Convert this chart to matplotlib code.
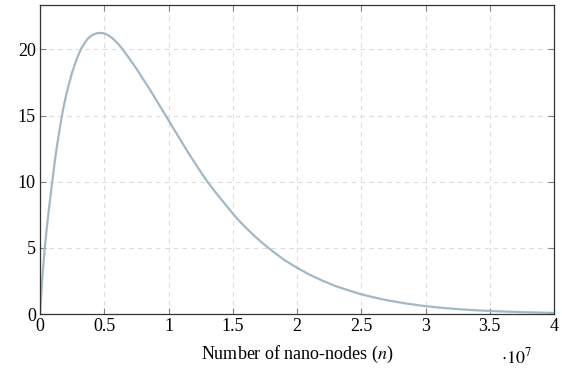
import matplotlib
matplotlib.use("Agg")
import matplotlib.pyplot as plt
from matplotlib.ticker import FuncFormatter

# number of nano-nodes, in units of 1e7
N_NODES = [0, 0.01, 0.02, 0.03, 0.04, 0.055, 0.07, 0.085, 0.10, 0.12, 0.14,
           0.16, 0.18, 0.20, 0.22, 0.245, 0.27, 0.295, 0.32, 0.345, 0.37,
           0.395, 0.42, 0.445, 0.47, 0.495, 0.52, 0.55, 0.58, 0.61, 0.64,
           0.67, 0.70, 0.75, 0.80, 0.85, 0.90, 0.95, 1.00, 1.05, 1.10, 1.15,
           1.20, 1.25, 1.30, 1.35, 1.40, 1.45, 1.50, 1.55, 1.60, 1.675, 1.75,
           1.825, 1.90, 2.0, 2.1, 2.2, 2.3, 2.4, 2.5, 2.6, 2.7, 2.85, 3.0,
           3.125, 3.25, 3.375, 3.5, 3.625, 3.75, 3.875, 4.0]
VALUES = [0, 1.5, 3.0, 4.2, 5.3, 6.7, 8.0, 9.2, 10.4, 11.9, 13.2,
          14.4, 15.5, 16.4, 17.2, 18.1, 18.85, 19.5, 20.05, 20.45, 20.8,
          21.0, 21.15, 21.23, 21.25, 21.23, 21.13, 20.95, 20.7, 20.4, 20.05,
          19.65, 19.25, 18.55, 17.8, 17.05, 16.25, 15.45, 14.65, 13.85, 13.05, 12.25,
          11.5, 10.75, 10.05, 9.4, 8.8, 8.2, 7.6, 7.05, 6.55, 5.85, 5.22,
          4.64, 4.1, 3.5, 2.97, 2.52, 2.12, 1.8, 1.5, 1.26, 1.05, 0.8, 0.6,
          0.48, 0.38, 0.3, 0.24, 0.19, 0.15, 0.12, 0.09]

X_TICKS = [0, 0.5, 1, 1.5, 2, 2.5, 3, 3.5, 4]
Y_TICKS = [0, 5, 10, 15, 20]
X_LABEL = "Number of nano-nodes ($n$)"

plt.rcParams['font.family'] = ['Liberation Serif', 'DejaVu Serif']
plt.rcParams['mathtext.fontset'] = 'stix'

fig = plt.figure(figsize=(5.62, 3.70), dpi=100)
ax = fig.add_axes([0.0712, 0.151, 0.9146, 0.8355])

ax.plot(N_NODES, VALUES, color='#a3b8c6', linewidth=1.6,
        solid_capstyle='round', solid_joinstyle='round')

ax.set_xlim(0, 4)
ax.set_ylim(0, 23.36)
ax.set_xticks(X_TICKS)
ax.set_yticks(Y_TICKS)
ax.xaxis.set_major_formatter(FuncFormatter(lambda v, p: "%g" % v))
ax.tick_params(direction='in', length=4, width=0.8, color='#808080',
               top=True, right=True, labelsize=13, pad=3)
ax.grid(color='#dcdcdc', linestyle=(0, (4, 4)), linewidth=0.8)
for s in ax.spines.values():
    s.set_linewidth(0.9)
    s.set_color('#333333')

ax.set_xlabel(X_LABEL, fontsize=13, labelpad=6)
ax.text(0.928, -0.14, r"$\cdot 10^{7}$", transform=ax.transAxes, fontsize=13,
        ha='center', va='center')

fig.savefig("out.png", dpi=100)
